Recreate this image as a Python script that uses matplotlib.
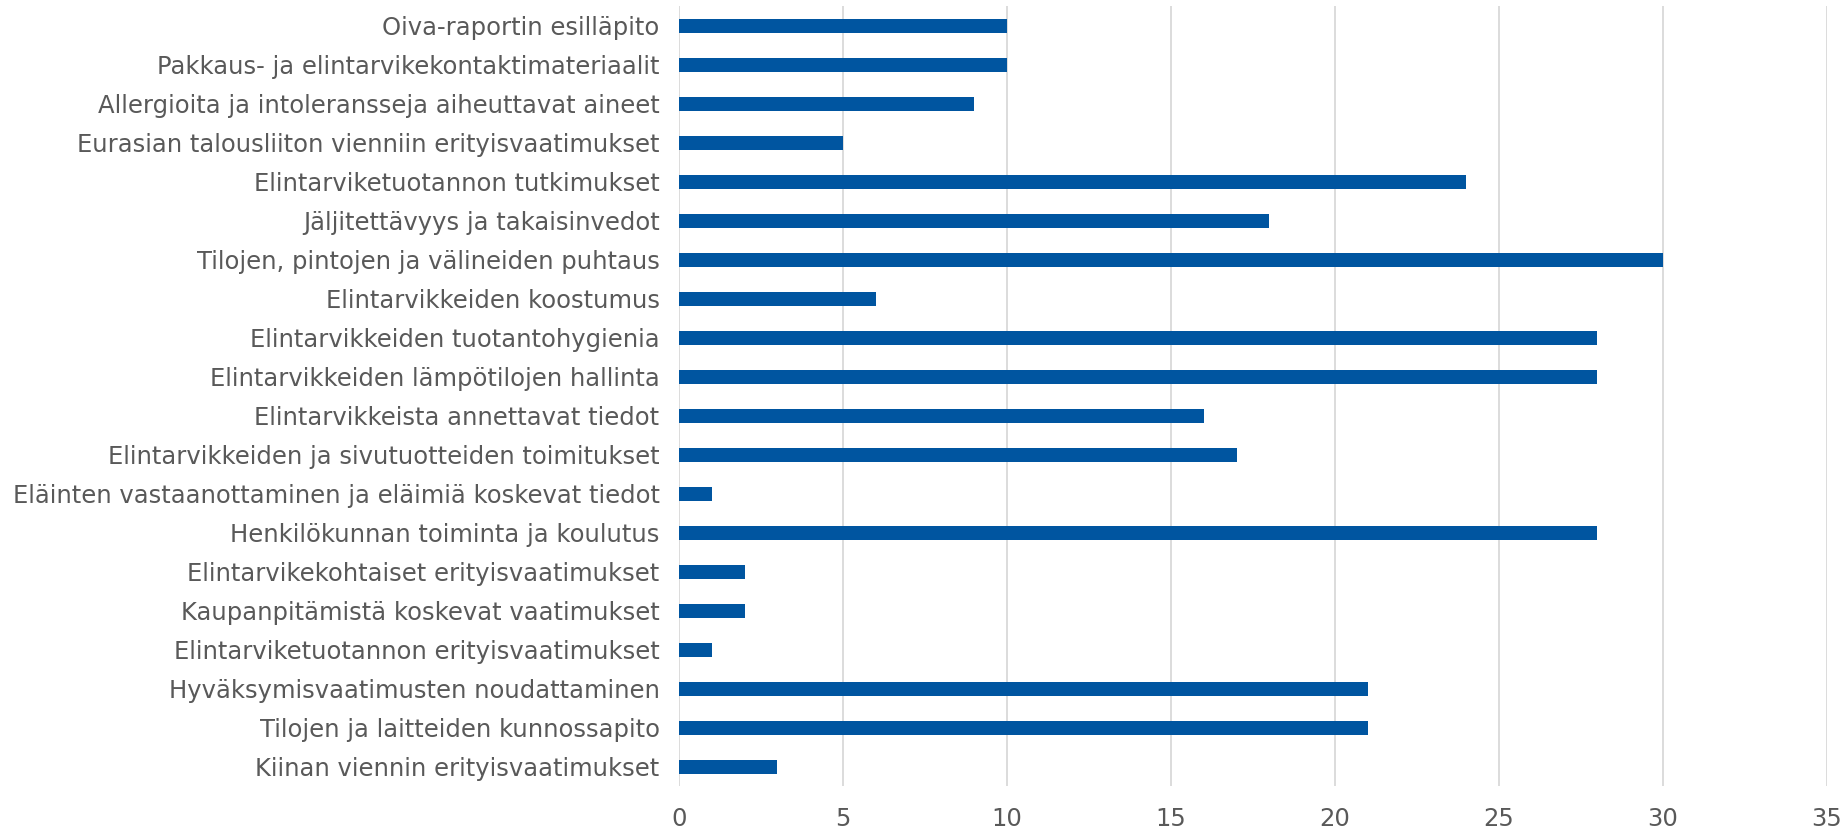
import matplotlib.pyplot as plt
import numpy as np

categories = [
    "Oiva-raportin esilläpito",
    "Pakkaus- ja elintarvikekontaktimateriaalit",
    "Allergioita ja intoleransseja aiheuttavat aineet",
    "Eurasian talousliiton vienniin erityisvaatimukset",
    "Elintarviketuotannon tutkimukset",
    "Jäljitettävyys ja takaisinvedot",
    "Tilojen, pintojen ja välineiden puhtaus",
    "Elintarvikkeiden koostumus",
    "Elintarvikkeiden tuotantohygienia",
    "Elintarvikkeiden lämpötilojen hallinta",
    "Elintarvikkeista annettavat tiedot",
    "Elintarvikkeiden ja sivutuotteiden toimitukset",
    "Eläinten vastaanottaminen ja eläimiä koskevat tiedot",
    "Henkilökunnan toiminta ja koulutus",
    "Elintarvikekohtaiset erityisvaatimukset",
    "Kaupanpitämistä koskevat vaatimukset",
    "Elintarviketuotannon erityisvaatimukset",
    "Hyväksymisvaatimusten noudattaminen",
    "Tilojen ja laitteiden kunnossapito",
    "Kiinan viennin erityisvaatimukset",
]
values = [10, 10, 9, 5, 24, 18, 30, 6, 28, 28, 16, 17, 1, 28, 2, 2, 1, 21, 21, 3]
xticks = [0, 5, 10, 15, 20, 25, 30, 35]

text_color = "#595959"
bar_color = "#0055A0"
grid_color = "#D9D9D9"

fig = plt.figure(figsize=(18.46, 8.32), dpi=100)
ax = fig.add_axes([0.3678, 0.0547, 0.6219, 0.9375])

y = np.arange(len(categories))
ax.barh(y, values, height=0.37, color=bar_color, zorder=3)

ax.set_ylim(len(categories) - 0.5, -0.5)
ax.set_xlim(0, 35)
ax.set_yticks(y)
ax.set_yticklabels(categories)
ax.set_xticks(xticks)

ax.grid(axis="x", color=grid_color, linewidth=1.3, zorder=0)
for s in ax.spines.values():
    s.set_visible(False)
ax.tick_params(axis="both", length=0, labelsize=17.5, colors=text_color)
ax.tick_params(axis="y", pad=14)
ax.tick_params(axis="x", pad=15)

fig.savefig("out.png", dpi=100)
